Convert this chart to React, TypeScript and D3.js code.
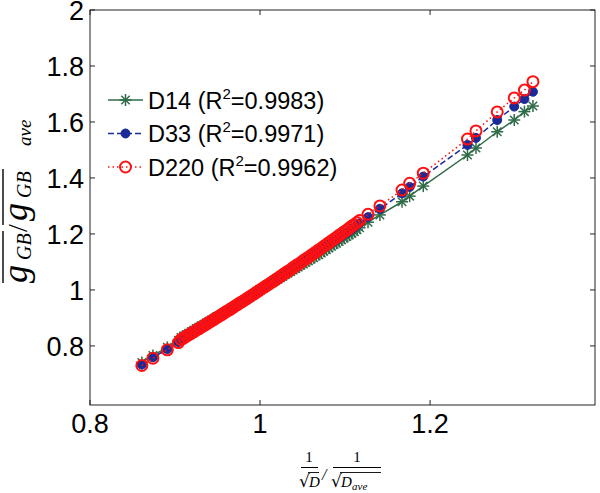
import React from "react";
import * as d3 from "d3";

// normalized 1/sqrt(D) values (shared x positions)
const xVals = [
  0.861, 0.874, 0.891, 0.904,
  0.907, 0.910, 0.913, 0.916, 0.919, 0.922, 0.925, 0.928, 0.931, 0.934,
  0.937, 0.940, 0.943, 0.946, 0.949, 0.952, 0.955, 0.958, 0.961, 0.964,
  0.967, 0.970, 0.973, 0.976, 0.979, 0.982, 0.985, 0.988, 0.991, 0.994,
  0.997, 1.000, 1.003, 1.006, 1.009, 1.012, 1.015, 1.018, 1.021, 1.024,
  1.027, 1.030, 1.033, 1.036, 1.039, 1.042, 1.045, 1.048, 1.051, 1.054,
  1.057, 1.060, 1.063, 1.066, 1.069, 1.072, 1.075, 1.078, 1.081, 1.084,
  1.087, 1.090, 1.093, 1.096, 1.099, 1.102, 1.105, 1.108, 1.111, 1.114, 1.117,
  1.127, 1.141, 1.167, 1.176, 1.192, 1.244, 1.254, 1.279, 1.299, 1.311, 1.321,
];

const d14 = [
  0.741, 0.766, 0.795, 0.820,
  0.830, 0.835, 0.840, 0.845, 0.851, 0.856, 0.862, 0.867, 0.872, 0.877,
  0.883, 0.888, 0.893, 0.899, 0.904, 0.909, 0.915, 0.920, 0.926, 0.931,
  0.937, 0.942, 0.948, 0.954, 0.959, 0.965, 0.970, 0.976, 0.982, 0.988,
  0.994, 1.000, 1.005, 1.011, 1.016, 1.022, 1.027, 1.033, 1.038, 1.044,
  1.049, 1.055, 1.060, 1.066, 1.071, 1.077, 1.082, 1.088, 1.093, 1.099,
  1.104, 1.110, 1.115, 1.121, 1.126, 1.132, 1.138, 1.144, 1.150, 1.156,
  1.162, 1.167, 1.173, 1.179, 1.185, 1.191, 1.196, 1.202, 1.208, 1.215, 1.222,
  1.242, 1.268, 1.315, 1.335, 1.371, 1.482, 1.507, 1.565, 1.607, 1.637, 1.657,
];

const d33 = [
  0.733, 0.759, 0.789, 0.814,
  0.825, 0.830, 0.836, 0.841, 0.847, 0.852, 0.858, 0.863, 0.869, 0.874,
  0.880, 0.886, 0.891, 0.897, 0.902, 0.907, 0.913, 0.919, 0.925, 0.930,
  0.936, 0.942, 0.948, 0.954, 0.959, 0.965, 0.971, 0.976, 0.982, 0.988,
  0.994, 1.000, 1.006, 1.011, 1.017, 1.023, 1.029, 1.035, 1.041, 1.047,
  1.053, 1.059, 1.065, 1.071, 1.077, 1.083, 1.089, 1.095, 1.101, 1.107,
  1.113, 1.119, 1.125, 1.131, 1.138, 1.144, 1.150, 1.156, 1.162, 1.168,
  1.174, 1.180, 1.186, 1.192, 1.199, 1.205, 1.211, 1.218, 1.224, 1.231, 1.238,
  1.260, 1.290, 1.345, 1.368, 1.405, 1.518, 1.543, 1.607, 1.655, 1.682, 1.708,
];

const d220 = [
  0.730, 0.756, 0.786, 0.812,
  0.823, 0.828, 0.834, 0.839, 0.845, 0.850, 0.856, 0.861, 0.867, 0.872,
  0.878, 0.884, 0.889, 0.895, 0.901, 0.906, 0.912, 0.918, 0.924, 0.929,
  0.935, 0.941, 0.947, 0.953, 0.958, 0.964, 0.970, 0.976, 0.982, 0.988,
  0.994, 1.000, 1.006, 1.012, 1.018, 1.024, 1.030, 1.036, 1.042, 1.049,
  1.055, 1.061, 1.067, 1.073, 1.080, 1.086, 1.092, 1.098, 1.105, 1.111,
  1.117, 1.124, 1.130, 1.136, 1.143, 1.149, 1.156, 1.162, 1.169, 1.175,
  1.182, 1.188, 1.195, 1.201, 1.208, 1.214, 1.221, 1.228, 1.234, 1.241, 1.248,
  1.270, 1.300, 1.357, 1.381, 1.417, 1.539, 1.568, 1.636, 1.686, 1.714, 1.744,
];

const seriesNames = ["D14", "D33", "D220"];
const r2Labels = ["0.9983", "0.9971", "0.9962"];
const xTicks = [0.8, 1, 1.2];
const yTicks = [0.8, 1, 1.2, 1.4, 1.6, 1.8, 2];

const GREEN = "#2f6b48";
const BLUE = "#1a2a96";
const RED = "#ff1010";

const left = 90, right = 595, top = 10, bottom = 405;

const Star = ({ x, y, s, color }: { x: number; y: number; s: number; color: string }) => {
  const d = s * 0.7071;
  return (
    <g stroke={color} strokeWidth={1.5}>
      <line x1={x - s} y1={y} x2={x + s} y2={y} />
      <line x1={x} y1={y - s} x2={x} y2={y + s} />
      <line x1={x - d} y1={y - d} x2={x + d} y2={y + d} />
      <line x1={x - d} y1={y + d} x2={x + d} y2={y - d} />
    </g>
  );
};

const App = () => {
  const x = d3.scaleLinear().domain([0.8, 1.394]).range([left, right]);
  const y = d3.scaleLinear().domain([0.589, 2]).range([bottom, top]);

  const allSeries = [d14, d33, d220];
  const pts = allSeries.map((s) => s.map((v, i) => [xVals[i], v] as [number, number]));
  const line = d3.line<[number, number]>().x((d) => x(d[0])).y((d) => y(d[1]));

  const styles = [
    { color: GREEN, dash: undefined as string | undefined },
    { color: BLUE, dash: "6,3" },
    { color: RED, dash: "1.5,3" },
  ];

  const marker = (k: number, cx: number, cy: number, key: string | number) => {
    if (k === 0) return <Star key={key} x={cx} y={cy} s={6} color={GREEN} />;
    if (k === 1) return <circle key={key} cx={cx} cy={cy} r={4.5} fill={BLUE} stroke={BLUE} strokeWidth={1} />;
    return <circle key={key} cx={cx} cy={cy} r={5.5} fill="none" stroke={RED} strokeWidth={2} />;
  };

  const tickFont = "'Liberation Sans', Arial, sans-serif";
  const serif = "'Liberation Serif', serif";

  return (
    <svg width={600} height={493} style={{ position: "absolute", left: 0, top: 0, background: "#fff" }}>
      <rect x={0} y={0} width={600} height={493} fill="#fff" />

      {/* series */}
      {pts.map((p, k) => (
        <g key={k}>
          <path d={line(p) || ""} fill="none" stroke={styles[k].color} strokeWidth={1.5} strokeDasharray={styles[k].dash} />
          {p.map((d, i) => marker(k, x(d[0]), y(d[1]), i))}
        </g>
      ))}

      {/* axes box */}
      <rect x={left} y={top} width={right - left} height={bottom - top} fill="none" stroke="#222" strokeWidth={1} />
      {xTicks.map((t) => (
        <g key={"xt" + t}>
          <line x1={x(t)} x2={x(t)} y1={bottom} y2={bottom - 5} stroke="#222" />
          <line x1={x(t)} x2={x(t)} y1={top} y2={top + 5} stroke="#222" />
          <text x={x(t)} y={433} textAnchor="middle" fontFamily={tickFont} fontSize={27} fill="#000">
            {t}
          </text>
        </g>
      ))}
      {yTicks.map((t) => (
        <g key={"yt" + t}>
          <line x1={left} x2={left + 5} y1={y(t)} y2={y(t)} stroke="#222" />
          <line x1={right} x2={right - 5} y1={y(t)} y2={y(t)} stroke="#222" />
          <text x={84} y={y(t) + 10} textAnchor="end" fontFamily={tickFont} fontSize={27} fill="#000">
            {t}
          </text>
        </g>
      ))}

      {/* legend */}
      {seriesNames.map((name, k) => {
        const ly = 100 + k * 33.5;
        return (
          <g key={"lg" + k}>
            <line x1={108} x2={143} y1={ly} y2={ly} stroke={styles[k].color} strokeWidth={1.5} strokeDasharray={styles[k].dash} />
            {marker(k, 125.5, ly, "m")}
            <text x={148} y={ly + 8.5} fontFamily={tickFont} fontSize={23.5} fill="#000">
              {name} (R
              <tspan fontSize={15} dy={-10}>2</tspan>
              <tspan dy={10}>={r2Labels[k]})</tspan>
            </text>
          </g>
        );
      })}

      {/* y label */}
      <g transform="translate(27,283) rotate(-90)" fontFamily={serif} fontStyle="italic" fill="#000">
        <text x={0} y={0} fontSize={36}>g</text>
        <text x={23} y={4} fontSize={20}>GB</text>
        <text x={51} y={0} fontSize={28} fontStyle="normal">/</text>
        <text x={62} y={0} fontSize={36}>g</text>
        <text x={85} y={4} fontSize={20}>GB</text>
        <text x={137} y={4} fontSize={19}>ave</text>
        <line x1={0} x2={52} y1={-24} y2={-24} stroke="#000" strokeWidth={1.4} />
        <line x1={58} x2={114} y1={-24} y2={-24} stroke="#000" strokeWidth={1.4} />
      </g>

      {/* x label */}
      <g fontFamily={serif} fill="#000">
        <text x={309} y={462} fontSize={15} textAnchor="middle">1</text>
        <line x1={301} x2={318} y1={467.5} y2={467.5} stroke="#000" strokeWidth={1} />
        <text x={299} y={487} fontSize={17} fontFamily="'DejaVu Serif', serif">√</text>
        <text x={309} y={487} fontSize={15} fontStyle="italic">D</text>
        <line x1={308} x2={319} y1={472.5} y2={472.5} stroke="#000" strokeWidth={0.9} />
        <text x={322} y={480} fontSize={16} fontStyle="italic">/</text>
        <text x={357} y={462} fontSize={15} textAnchor="middle">1</text>
        <line x1={333} x2={381} y1={467.5} y2={467.5} stroke="#000" strokeWidth={1} />
        <text x={331} y={487} fontSize={17} fontFamily="'DejaVu Serif', serif">√</text>
        <text x={341} y={487} fontSize={15} fontStyle="italic">D</text>
        <text x={352} y={490} fontSize={11} fontStyle="italic">ave</text>
        <line x1={340} x2={381} y1={472.5} y2={472.5} stroke="#000" strokeWidth={0.9} />
      </g>
    </svg>
  );
};

export default App;
